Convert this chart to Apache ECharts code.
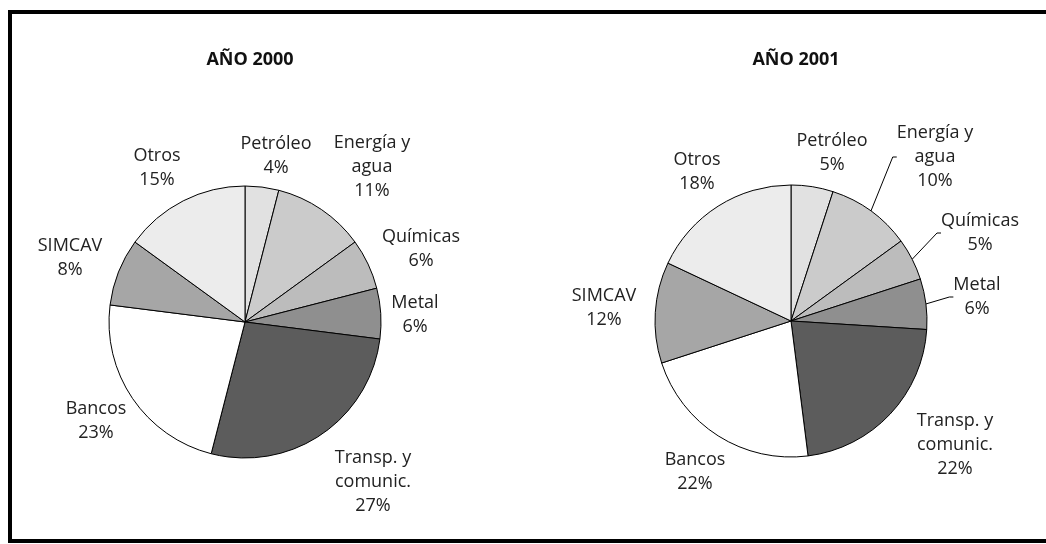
<!DOCTYPE html>
<html>
<head>
    <meta charset="utf-8">
    <title>Cartera por sectores</title>
    <script src="https://cdn.jsdelivr.net/npm/echarts@6/dist/echarts.min.js"></script>
    <style>
        html, body {margin:0;padding:0;background:#fff;}
        #chart {width:1046px;height:544px;}
    </style>
</head>
<body>
<div id="chart"></div>
<script>
    // sectores (orden horario desde las 12)
    const sectores = ['Petróleo', 'Energía y\nagua', 'Químicas', 'Metal', 'Transp. y\ncomunic.', 'Bancos', 'SIMCAV', 'Otros'];
    const valores2000 = [4, 11, 6, 6, 27, 23, 8, 15];
    const valores2001 = [5, 10, 5, 6, 22, 22, 12, 18];
    const titulos = ['AÑO 2000', 'AÑO 2001'];

    const grises = ['#e1e1e1', '#cbcbcb', '#bcbcbc', '#8f8f8f', '#5c5c5c', '#ffffff', '#a6a6a6', '#ececec'];
    const fuente = '"Open Sans", "DejaVu Sans", sans-serif';

    // posiciones de las etiquetas (centro del bloque de texto)
    const etiq2000 = [[276, 156], [372, 167], [421, 249], [415, 315], [373, 482], [96, 421], [70, 258], [157, 168]];
    const etiq2001 = [[832, 153], [935, 157], [980, 233], [977, 297], [955, 445], [695, 472], [604, 308], [697, 172]];
    const conLinea2001 = [false, true, true, true, false, false, false, false];

    const chart = echarts.init(document.getElementById('chart'));

    function datos(valores, lineas) {
        return sectores.map(function (s, i) {
            return {
                name: s,
                value: valores[i],
                itemStyle: {color: grises[i]},
                labelLine: {show: !!(lineas && lineas[i])}
            };
        });
    }

    function serie(valores, centro, pos, lineas) {
        return {
            type: 'pie',
            center: centro,
            radius: 136,
            startAngle: 90,
            clockwise: true,
            silent: true,
            animation: false,
            itemStyle: {borderColor: '#000', borderWidth: 1},
            label: {
                show: true,
                position: 'outside',
                formatter: function (p) { return p.name + '\n' + p.value + '%'; },
                fontFamily: fuente,
                fontSize: 18,
                lineHeight: 24,
                color: '#222',
                align: 'center'
            },
            labelLine: {show: false, length: 6, length2: 4, lineStyle: {color: '#000', width: 1}},
            labelLayout: function (p) {
                const xy = pos[p.dataIndex];
                return {x: xy[0], y: xy[1], align: 'center', verticalAlign: 'middle', hideOverlap: false};
            },
            data: datos(valores, lineas)
        };
    }

    const option = {
        backgroundColor: '#fff',
        animation: false,
        title: [
            {text: titulos[0], left: 245, top: 46, textAlign: 'center',
                textStyle: {fontFamily: fuente, fontSize: 18, fontWeight: 'bold', color: '#111'}},
            {text: titulos[1], left: 791, top: 46, textAlign: 'center',
                textStyle: {fontFamily: fuente, fontSize: 18, fontWeight: 'bold', color: '#111'}}
        ],
        graphic: [{
            type: 'rect',
            shape: {x: 10, y: 12, width: 1050, height: 529},
            style: {fill: 'none', stroke: '#000', lineWidth: 4},
            silent: true
        }],
        series: [
            serie(valores2000, [245, 322], etiq2000, null),
            serie(valores2001, [791, 321], etiq2001, conLinea2001)
        ]
    };
    chart.setOption(option);
    window.onresize = function () { chart.resize(); };
</script>
</body>
</html>
